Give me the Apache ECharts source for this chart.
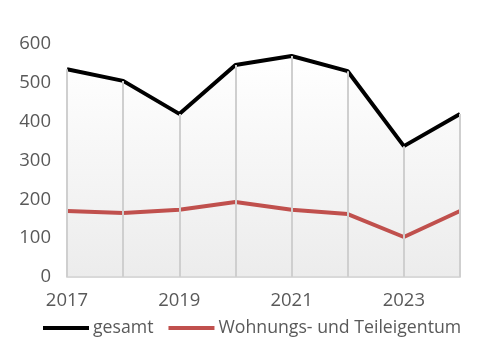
<!DOCTYPE html>
<html lang="de">
<head>
    <meta charset="UTF-8">
    <title></title>
    <style>
        html, body { margin: 0; padding: 0; background: #fff; }
        #chart { width: 488px; height: 354px; }
    </style>
</head>
<body>
    <div id="chart"></div>
    <script src="https://cdn.jsdelivr.net/npm/echarts@6/dist/echarts.min.js"></script>
    <script>
        // Jahre
        const years = ['2017', '2018', '2019', '2020', '2021', '2022', '2023', '2024'];
        // gesamt
        const gesamt = [535, 505, 420, 546, 569, 530, 337, 420];
        // Wohnungs- und Teileigentum
        const wohnung = [170, 165, 173, 193, 173, 162, 103, 170];

        const myChart = echarts.init(document.getElementById('chart'));
        const txt = { color: '#595959', fontSize: 18.5, fontFamily: 'Open Sans' };

        // Falllinien unter "gesamt"
        const dropLines = gesamt.map((v, i) => [{ coord: [i, v] }, { coord: [i, 0] }]);

        const option = {
            animation: false,
            grid: { left: 67, right: 28, top: 44, bottom: 77 },
            legend: {
                left: 43, bottom: 17, width: 446, padding: 0,
                icon: 'rect',
                itemWidth: 46, itemHeight: 4, itemGap: 15,
                textStyle: Object.assign({}, txt, { fontSize: 17.7, padding: [0, 0, 0, -1] }),
                data: ['gesamt', 'Wohnungs- und Teileigentum']
            },
            xAxis: {
                type: 'category',
                data: years,
                boundaryGap: false,
                axisLine: { lineStyle: { color: '#d9d9d9', width: 2 } },
                axisTick: { show: false },
                axisLabel: Object.assign({}, txt, { interval: 1, margin: 14 }),
                splitLine: { show: false }
            },
            yAxis: {
                type: 'value',
                min: 0, max: 600, interval: 100,
                axisLine: { show: false },
                axisTick: { show: false },
                axisLabel: Object.assign({}, txt, { margin: 16 }),
                splitLine: { show: false }
            },
            series: [{
                name: 'flaeche',
                type: 'line',
                data: gesamt,
                symbol: 'none',
                silent: true,
                z: 0,
                lineStyle: { width: 0 },
                areaStyle: {
                    opacity: 1,
                    color: new echarts.graphic.LinearGradient(0, 0, 0, 1, [
                        { offset: 0, color: '#ffffff' },
                        { offset: 1, color: '#ececec' }
                    ])
                },
                markLine: {
                    silent: true,
                    symbol: 'none',
                    label: { show: false },
                    lineStyle: { color: '#cfcfcf', width: 2, type: 'solid' },
                    data: dropLines
                }
            }, {
                name: 'gesamt',
                type: 'line',
                data: gesamt,
                symbol: 'none',
                z: 3,
                lineStyle: { color: '#000', width: 4 },
                itemStyle: { color: '#000' }
            }, {
                name: 'Wohnungs- und Teileigentum',
                type: 'line',
                data: wohnung,
                symbol: 'none',
                z: 3,
                lineStyle: { color: '#c0504d', width: 4 },
                itemStyle: { color: '#c0504d' }
            }]
        };
        myChart.setOption(option);
    </script>
</body>
</html>
